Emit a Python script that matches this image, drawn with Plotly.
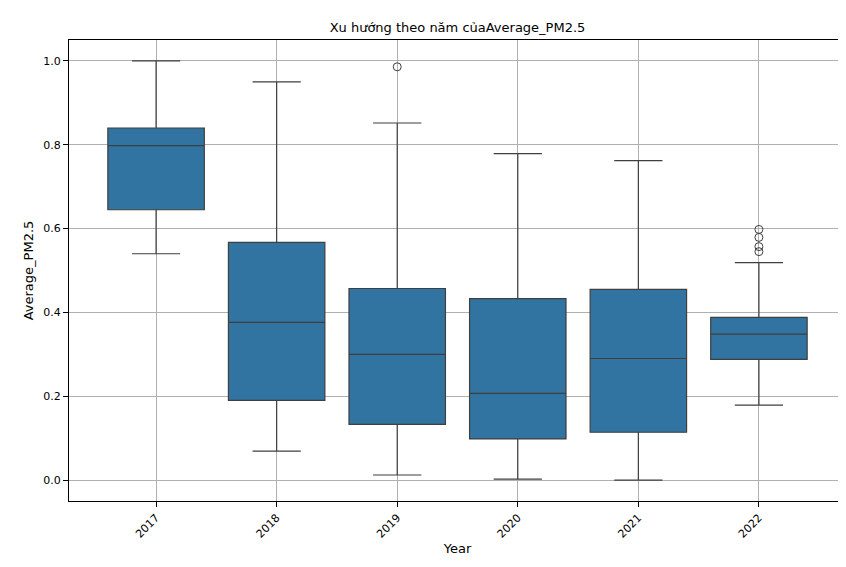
import plotly.graph_objects as go

years = ["2017", "2018", "2019", "2020", "2021", "2022"]
q1 = [0.645, 0.190, 0.133, 0.098, 0.114, 0.288]
median = [0.798, 0.376, 0.300, 0.207, 0.290, 0.348]
q3 = [0.840, 0.567, 0.457, 0.433, 0.455, 0.388]
lower = [0.540, 0.069, 0.012, 0.002, 0.000, 0.179]
upper = [1.000, 0.950, 0.852, 0.779, 0.762, 0.519]
out_x = ["2019", "2022", "2022", "2022", "2022"]
out_y = [0.986, 0.598, 0.579, 0.557, 0.545]

fig = go.Figure()
fig.add_trace(go.Box(x=years, q1=q1, median=median, q3=q3, lowerfence=lower, upperfence=upper,
                     fillcolor="#3274a1", line=dict(color="#3f3f3f", width=1.2),
                     width=0.8, boxpoints=False, showlegend=False, hoverinfo="skip"))
fig.add_trace(go.Scatter(x=out_x, y=out_y, mode="markers", showlegend=False,
                         marker=dict(symbol="circle-open", size=8, color="#3f3f3f", line=dict(width=1))))
ax = dict(showgrid=True, gridcolor="#b0b0b0", gridwidth=0.8, showline=True, linecolor="black",
          mirror=True, ticks="outside", tickcolor="black", zeroline=False, automargin=False,
          tickfont=dict(size=11))
fig.update_layout(
    width=846, height=567, plot_bgcolor="white", paper_bgcolor="white",
    margin=dict(l=61, r=8, t=32, b=74),
    font=dict(family="DejaVu Sans", size=11, color="black"),
    title=dict(text="Xu hướng theo năm củaAverage_PM2.5", x=0.5, xanchor="center",
               xref="paper", yref="container", y=1 - 19/567, yanchor="middle", font=dict(size=13)),
    xaxis=dict(**ax, title=dict(text="Year", standoff=4), tickangle=-45, type="category"),
    yaxis=dict(**ax, title=dict(text="Average_PM2.5", standoff=6), range=[-0.05, 1.05],
               tickvals=[0, 0.2, 0.4, 0.6, 0.8, 1.0], tickformat=".1f"),
)
fig.write_html("out.html")
